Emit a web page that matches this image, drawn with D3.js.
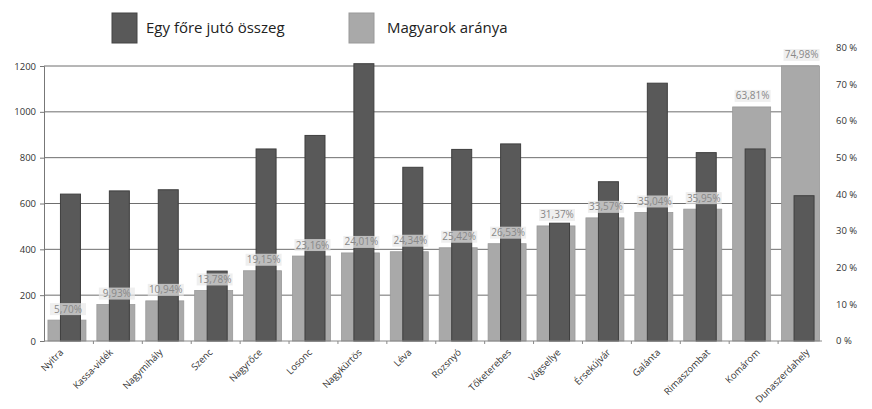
<!DOCTYPE html>
<html><head><meta charset="utf-8">
<script src="https://cdn.jsdelivr.net/npm/d3@7"></script>
<style>body{margin:0;background:#fff;} svg{display:block;}</style>
</head><body>
<script>
const categories = ["Nyitra","Kassa-vidék","Nagymihály","Szenc","Nagyrőce","Losonc","Nagykürtös","Léva","Rozsnyó","Tőketerebes","Vágsellye","Érsekújvár","Galánta","Rimaszombat","Komárom","Dunaszerdahely"];
const perCapita = [641, 655, 660, 305, 838, 897, 1210, 758, 836, 860, 514, 695, 1125, 822, 838, 634];
const hungarianShare = [5.70, 9.93, 10.94, 13.78, 19.15, 23.16, 24.01, 24.34, 25.42, 26.53, 31.37, 33.57, 35.04, 35.95, 63.81, 74.98];
const leftTicks = [0, 200, 400, 600, 800, 1000, 1200];
const rightTicks = [0, 10, 20, 30, 40, 50, 60, 70, 80];
const seriesNames = ["Egy főre jutó összeg", "Magyarok aránya"];

const W = 872, H = 409;
const svg = d3.select("body").append("svg").attr("width", W).attr("height", H);
const font = "'Open Sans', 'DejaVu Sans', sans-serif";

const x = d3.scaleBand().domain(categories).range([44.5, 827]).padding(0);
const xLab = d3.scaleBand().domain(categories).range([38, 834]).padding(0);
const yL = d3.scaleLinear().domain([0, 1200]).range([341, 66]);
const yR = d3.scaleLinear().domain([0, 80]).range([341, 341 - 80 * 3.668]);

// gridlines
svg.append("g").selectAll("line").data(leftTicks.slice(1)).join("line")
  .attr("x1", 44).attr("x2", 819).attr("y1", d => yL(d)).attr("y2", d => yL(d))
  .attr("stroke", "#6e6e6e").attr("stroke-width", 1);

// light bars (share)
const lw = 38, dw = 20;
svg.append("g").selectAll("rect").data(categories).join("rect")
  .attr("x", (d) => x(d) + x.bandwidth() / 2 - 2 - lw / 2)
  .attr("width", lw)
  .attr("y", (d, i) => yR(hungarianShare[i]))
  .attr("height", (d, i) => yR(0) - yR(hungarianShare[i]))
  .attr("fill", "#a9a9a9").attr("stroke", "#9a9a9a").attr("stroke-width", 0.8);

// dark bars (per capita)
svg.append("g").selectAll("rect").data(categories).join("rect")
  .attr("x", (d) => x(d) + x.bandwidth() / 2 + 1.5 - dw / 2)
  .attr("width", dw)
  .attr("y", (d, i) => yL(perCapita[i]))
  .attr("height", (d, i) => yL(0) - yL(perCapita[i]))
  .attr("fill", "#595959").attr("stroke", "#3f3f3f").attr("stroke-width", 1);

// left axis
const axL = svg.append("g").attr("transform", "translate(44,0)")
  .call(d3.axisLeft(yL).tickValues(leftTicks).tickFormat(d3.format("d")).tickSize(4).tickPadding(4));
axL.select(".domain").attr("stroke", "#777");
axL.selectAll(".tick line").attr("stroke", "#777");
axL.selectAll("text").attr("font-family", font).attr("font-size", 9.5).attr("fill", "#333");

// bottom baseline + category boundary ticks
svg.append("line").attr("x1", 44).attr("x2", 822).attr("y1", 341).attr("y2", 341)
  .attr("stroke", "#888").attr("stroke-width", 1);
svg.append("g").selectAll("line").data(categories.slice(1)).join("line")
  .attr("x1", d => x(d)).attr("x2", d => x(d)).attr("y1", 341).attr("y2", 344)
  .attr("stroke", "#888").attr("stroke-width", 1);

// right axis labels
svg.append("g").selectAll("text").data(rightTicks).join("text")
  .attr("x", 836).attr("y", d => yR(d)).attr("dy", "0.35em")
  .attr("font-family", font).attr("font-size", 9.5).attr("fill", "#333")
  .text(d => d + " %");

// x labels
svg.append("g").selectAll("text").data(categories).join("text")
  .attr("transform", d => `translate(${xLab(d) + xLab.bandwidth() / 2 + 1},353) rotate(-45)`)
  .attr("text-anchor", "end")
  .attr("font-family", font).attr("font-size", 9.5).attr("fill", "#333")
  .text(d => d);

// value labels
const lab = svg.append("g").selectAll("g").data(categories).join("g")
  .attr("transform", (d, i) => `translate(${x(d) + x.bandwidth() / 2 - 1},${yR(hungarianShare[i]) - 11})`);
lab.append("rect").attr("x", -18).attr("y", -6).attr("width", 36).attr("height", 12)
  .attr("fill", "#e8e8e8").attr("opacity", 0.7);
lab.append("text").attr("text-anchor", "middle").attr("dy", "0.35em")
  .attr("font-family", font).attr("font-size", 10).attr("fill", "#888")
  .text((d, i) => hungarianShare[i].toFixed(2).replace(".", ",") + "%");

// legend
const leg = svg.append("g");
leg.append("rect").attr("x", 112).attr("y", 13).attr("width", 25).attr("height", 30)
  .attr("fill", "#595959").attr("stroke", "#444");
leg.append("text").attr("x", 146).attr("y", 31).attr("dy", "0.1em")
  .attr("font-family", font).attr("font-size", 15).attr("fill", "#222").text(seriesNames[0]);
leg.append("rect").attr("x", 349).attr("y", 13).attr("width", 25).attr("height", 30)
  .attr("fill", "#a9a9a9").attr("stroke", "#999");
leg.append("text").attr("x", 387).attr("y", 31).attr("dy", "0.1em")
  .attr("font-family", font).attr("font-size", 15).attr("fill", "#222").text(seriesNames[1]);
</script>
</body></html>
